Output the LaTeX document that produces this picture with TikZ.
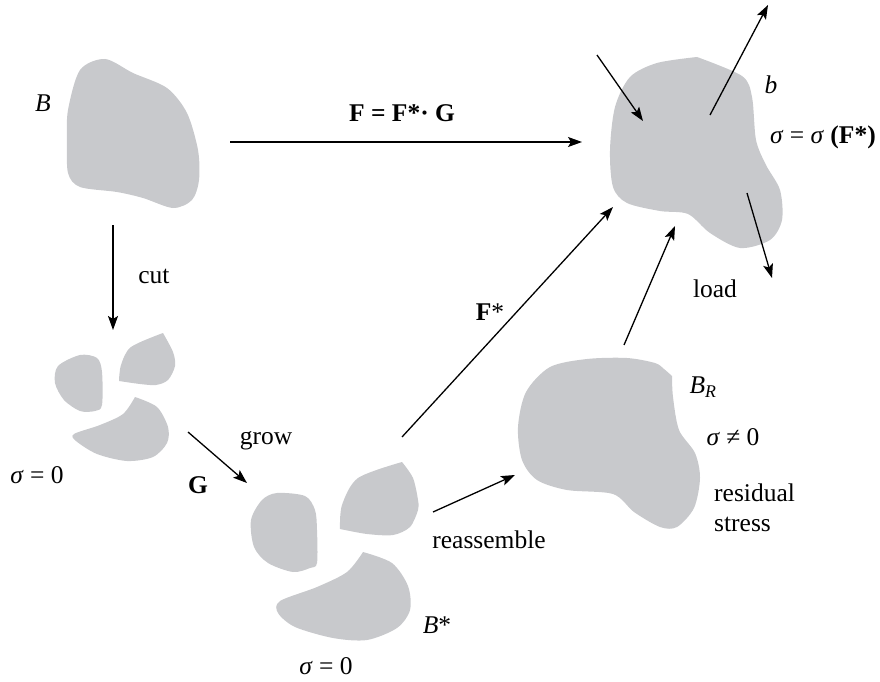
\documentclass[tikz,border=0pt]{standalone}
\usepackage{fontspec}
\setmainfont{Liberation Serif}
\usepackage{tikz}
\usetikzlibrary{arrows.meta,calc,positioning}
\definecolor{blobgrey}{RGB}{200,201,204}
\tikzset{blob/.style={fill=blobgrey},
lbl/.style={inner sep=0pt, font=\fontsize{25.5}{30}\selectfont},
conn/.style={->, line width=1.3pt}}

\begin{document}
\begin{tikzpicture}[x=1pt, y=-1pt, >={Stealth[length=14pt,width=10pt,inset=3pt]}]
\useasboundingbox (0,0) rectangle (880,682);
% body B
\fill[blob] plot[smooth cycle] coordinates {(105,59) (133,73) (167,88) (187,113) (198,150) (199,180) (192,200) (173,208) (143,198) (117,192) (80,187) (68,173) (67,140) (68,110) (80,70)};
% cut pieces
\fill[blob] plot[smooth cycle] coordinates {(80,355) (97,358) (102,372) (102,405) (95,411) (80,411) (64,400) (55,383) (58,366)};
\fill[blob] plot[smooth] coordinates {(119,381) (121,365) (131,347) (163,333)} -- plot[smooth] coordinates {(163,333) (173,352) (175,366) (168,380) (156,385) (140,384) (119,381)} -- cycle;
\fill[blob] plot[smooth] coordinates {(135,397) (157,407) (168,427) (167,443) (153,457) (127,461) (97,454) (76,441) (74,434) (100,425) (123,414) (135,397)} -- cycle;
% grown pieces B*
\fill[blob] plot[smooth cycle] coordinates {(277,493) (305,496) (315,510) (317,530) (317,563) (310,568) (293,572) (268,563) (254,547) (251,520) (262,500)};
\fill[blob] plot[smooth] coordinates {(340,529) (342,505) (358,478) (402,462)} -- plot[smooth] coordinates {(402,462) (413,478) (418,500) (418,510) (410,527) (393,535) (367,534) (340,529)} -- cycle;
\fill[blob] plot[smooth] coordinates {(363,552) (392,563) (408,586) (410,610) (397,628) (367,640) (333,638) (295,627) (278,613) (280,601) (317,587) (347,572) (363,552)} -- cycle;
% reassembled B_R
\fill[blob] plot[smooth] coordinates {(672,376) (673,397) (679,430) (695,453) (700,478) (694,508) (677,527) (660,527) (634,512) (613,494) (567,490) (537,480) (522,460) (518,427) (526,392) (550,367) (587,359) (627,358) (655,363) (664,369) (672,376)} -- cycle;
% loaded body b
\fill[blob] plot[smooth] coordinates {(697,57) (742,76) (752,97) (756,140) (766,165) (780,190) (782,220) (770,240) (740,248) (710,233) (688,214) (660,211) (627,203) (613,187) (610,150) (615,107) (630,77) (657,63) (697,57)} -- cycle;

% arrow ends
\coordinate (F0) at (230,142);  \coordinate (F1) at (582,142);
\coordinate (C0) at (113,225);  \coordinate (C1) at (113,330);
\coordinate (G0) at (188,432);  \coordinate (G1) at (247,483);
\coordinate (S0) at (402,437);  \coordinate (S1) at (613,207);
\coordinate (R0) at (433,512);  \coordinate (R1) at (515,475);
\coordinate (L0) at (624,345);  \coordinate (L1) at (675,226);
\coordinate (P0) at (597,55);   \coordinate (P1) at (643,121);
\coordinate (Q0) at (710,115);  \coordinate (Q1) at (768,5);
\coordinate (T0) at (747,193);  \coordinate (T1) at (772,278);

\draw[conn] (F0) -- (F1);
\draw[conn] (C0) -- (C1);
\draw[conn] (G0) -- (G1);
\draw[conn] (S0) -- (S1);
\draw[conn] (R0) -- (R1);
\draw[conn] (L0) -- (L1);
\draw[conn] (P0) -- (P1);
\draw[conn] (Q0) -- (Q1);
\draw[conn] (T0) -- (T1);

% labels
\node[lbl] (B) at (43,103) {\textit{B}};
\node[lbl] (Fmap) at (402,113) {\textbf{F = F*· G}};
\node[lbl] (cut) at (154,276) {cut};
\node[lbl] (sig1) at (37,475) {\textit{σ} = 0};
\node[lbl] (grow) at (266,441) {grow};
\node[lbl] (G) at (198,485) {\textbf{G}};
\node[lbl] (Bs) at (437,625) {\textit{B}*};
\node[lbl] (sig2) at (326,666) {\textit{σ} = 0};
\node[lbl] (Fs) at (490,312) {\textbf{F}*};
\node[lbl] (reas) at (489,540) {reassemble};
\node[lbl] (BR) at (703,387) {\textit{B}\textsubscript{\textit{R}}};
\node[lbl] (sig3) at (733,437) {\textit{σ} ≠ 0};
\node[lbl, align=left, anchor=west] (res) at (714,508) {residual\\stress};
\node[lbl] (b) at (771,85) {\textit{b}};
\node[lbl] (sig4) at (823,137) {\textit{σ} = \textit{σ} \textbf{(F*)}};
\node[lbl] (load) at (715,289) {load};
\end{tikzpicture}
\end{document}
